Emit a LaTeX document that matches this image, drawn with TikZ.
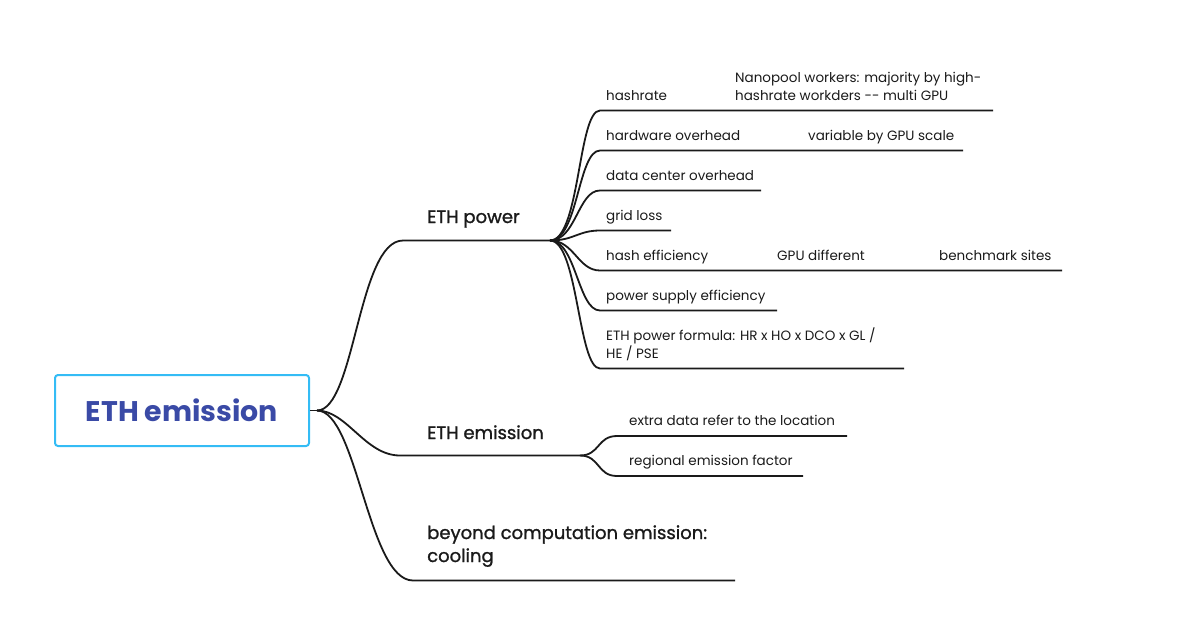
\documentclass[tikz,border=0pt]{standalone}
\usepackage{fontspec}
\setmainfont{Poppins}
\newfontfamily\midfont[FakeBold=1.2]{Poppins}
\usetikzlibrary{positioning,calc}
\definecolor{rootline}{RGB}{52,188,245}
\definecolor{roottext}{RGB}{58,74,166}
\definecolor{ink}{RGB}{26,26,26}
\tikzset{
  root/.style={draw=rootline, line width=2pt, rounded corners=3pt, minimum width=254pt, minimum height=71pt, text=roottext, font=\fontsize{28.4}{32}\selectfont\bfseries},
  main/.style={anchor=base west, inner sep=0pt, align=left, text=ink, font=\midfont\fontsize{18}{23}\selectfont},
  sub/.style={anchor=base west, inner sep=0pt, align=left, text=ink, font=\fontsize{13.5}{18}\selectfont},
  branch/.style={draw=ink, line width=1.8pt},
}

\begin{document}
\begin{tikzpicture}[x=1pt, y=-1pt]
\useasboundingbox (0,0) rectangle (1197,633);

\node (root) [root] at (182,410.5) {ETH emission};

% base of a two-line node is its last line
\node (pow)  [main] at (427,223) {ETH power};
\node (emi)  [main] at (427,439) {ETH emission};
\node (cool) [main] at (427,562) {beyond computation emission:\\cooling};

\node (hr) [sub] at (606,100) {hashrate};
\node (np) [sub] at (735,100) {Nanopool workers: majority by high-\\hashrate workders -{}- multi GPU};
\node (ho) [sub] at (606,140) {hardware overhead};
\node (vb) [sub] at (808,140) {variable by GPU scale};
\node (dc) [sub] at (606,180) {data center overhead};
\node (gl) [sub] at (606,220) {grid loss};
\node (he) [sub] at (606,260) {hash efficiency};
\node (gd) [sub] at (777,260) {GPU different};
\node (bs) [sub] at (939,260) {benchmark sites};
\node (ps) [sub] at (606,300) {power supply efficiency};
\node (pf) [sub] at (606,358) {ETH power formula: HR x HO x DCO x GL /\\HE / PSE};
\node (ed) [sub] at (629,425) {extra data refer to the location};
\node (re) [sub] at (629,465) {regional emission factor};

% underline ends
\coordinate (rootR) at (317,410.5);
\coordinate (powA) at (403,240.5);  \coordinate (powB) at (550,240.5);
\coordinate (emiA) at (400,455.5);  \coordinate (emiB) at (580,455.5);
\coordinate (coolA) at (413,580.5); \coordinate (coolB) at (735,580.5);
\coordinate (hrA) at (600,110.5); \coordinate (hrB) at (725,110.5); \coordinate (npB) at (993,110.5);
\coordinate (hoA) at (600,150.5); \coordinate (hoB) at (798,150.5); \coordinate (vbB) at (963,150.5);
\coordinate (dcA) at (600,190.5); \coordinate (dcB) at (761,190.5);
\coordinate (glA) at (600,230.5); \coordinate (glB) at (671,230.5);
\coordinate (heA) at (600,270.5); \coordinate (heB) at (767,270.5);
\coordinate (gdB) at (929,270.5); \coordinate (bsB) at (1062,270.5);
\coordinate (psA) at (600,310.5); \coordinate (psB) at (777,310.5);
\coordinate (pfA) at (600,368.5); \coordinate (pfB) at (904,368.5);
\coordinate (edA) at (617,436); \coordinate (edB) at (847,436);
\coordinate (reA) at (617,476); \coordinate (reB) at (803,476);

% main branches
\draw[branch] (root.east) -- (rootR);
\draw[branch] (rootR) .. controls +(38,0) and +(-45,0) .. (powA) -- (powB);
\draw[branch] (rootR) .. controls +(30,0) and +(-35,0) .. (emiA) -- (emiB);
\draw[branch] (rootR) .. controls +(40,0) and +(-45,0) .. (coolA) -- (coolB);

% ETH power topics
\draw[branch] (powB) .. controls +(30,0) and +(-22,0) .. (hrA) -- (hrB) -- (npB);
\draw[branch] (powB) .. controls +(28,0) and +(-22,0) .. (hoA) -- (hoB) -- (vbB);
\draw[branch] (powB) .. controls +(26,0) and +(-22,0) .. (dcA) -- (dcB);
\draw[branch] (powB) .. controls +(24,0) and +(-22,0) .. (glA) -- (glB);
\draw[branch] (powB) .. controls +(24,0) and +(-22,0) .. (heA) -- (heB) -- (gdB) -- (bsB);
\draw[branch] (powB) .. controls +(26,0) and +(-22,0) .. (psA) -- (psB);
\draw[branch] (powB) .. controls +(28,0) and +(-22,0) .. (pfA) -- (pfB);

% ETH emission topics
\draw[branch] (emiB) .. controls +(20,0) and +(-20,0) .. (edA) -- (edB);
\draw[branch] (emiB) .. controls +(20,0) and +(-20,0) .. (reA) -- (reB);
\end{tikzpicture}
\end{document}
